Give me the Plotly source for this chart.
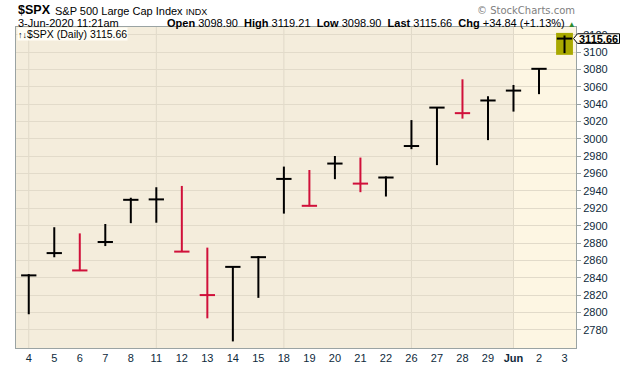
import plotly.graph_objects as go
from datetime import date

# ---- data ----
dates = ["2020-05-04", "2020-05-05", "2020-05-06", "2020-05-07", "2020-05-08",
         "2020-05-11", "2020-05-12", "2020-05-13", "2020-05-14", "2020-05-15",
         "2020-05-18", "2020-05-19", "2020-05-20", "2020-05-21", "2020-05-22",
         "2020-05-26", "2020-05-27", "2020-05-28", "2020-05-29",
         "2020-06-01", "2020-06-02", "2020-06-03"]
tick_labels = ["4", "5", "6", "7", "8", "11", "12", "13", "14", "15", "18", "19",
               "20", "21", "22", "26", "27", "28", "29", "<b>Jun</b>", "2", "3"]
high = [2844.2, 2898.2, 2891.1, 2901.9, 2932.2, 2944.3, 2945.8, 2874.7, 2852.8, 2865.0,
        2968.1, 2964.2, 2980.3, 2978.5, 2956.8, 3021.7, 3036.3, 3068.7, 3049.2,
        3062.2, 3081.1, 3119.21]
low = [2797.9, 2863.6, 2847.7, 2876.5, 2902.9, 2903.4, 2869.6, 2793.2, 2766.6, 2816.8,
       2913.9, 2922.4, 2953.6, 2938.6, 2933.6, 2988.2, 2969.8, 3023.4, 2998.6,
       3031.5, 3051.6, 3098.90]
close = [2842.7, 2868.4, 2848.4, 2881.2, 2929.8, 2930.3, 2870.1, 2820.0, 2852.5, 2863.7,
         2953.9, 2922.9, 2971.6, 2948.5, 2955.5, 2991.8, 3036.1, 3029.7, 3044.3,
         3055.7, 3080.8, 3115.66]
prev_close_before = 2830.7
y_ticks = list(range(2780, 3121, 20))

Y_MIN, Y_MAX = 2759, 3129
X_MIN, X_MAX = -0.5, 21.45
W, H = 620, 376
ML, MR, MT, MB = 16, 44, 27, 16

RED = "#D0103A"
BLACK = "#000000"
FONT = "Arial, Liberation Sans, sans-serif"

n = len(dates)
xs = list(range(n))
prevs = [prev_close_before] + close[:-1]
colors = [RED if c < p else BLACK for c, p in zip(close, prevs)]

fig = go.Figure()
half = 0.3
for col in (BLACK, RED):
    X, Y = [], []
    for i in xs:
        if colors[i] != col:
            continue
        X += [i, i, None, i - half, i + half, None]
        Y += [low[i], high[i], None, close[i], close[i], None]
    fig.add_trace(go.Scatter(x=X, y=Y, mode="lines",
                             line=dict(color=col, width=2), hoverinfo="skip",
                             showlegend=False, connectgaps=False))

shapes = []
# June background shading
jun_idx = next(i for i, d in enumerate(dates) if d.startswith("2020-06"))
shapes.append(dict(type="rect", xref="x", yref="paper", x0=jun_idx, x1=X_MAX,
                   y0=0, y1=1, fillcolor="#FDF6E3", line=dict(width=0), layer="below"))
# weekly vertical gridlines
dd = [date.fromisoformat(d) for d in dates]
for i, d in enumerate(dd):
    if i == 0 or d.isocalendar()[1] != dd[i - 1].isocalendar()[1]:
        shapes.append(dict(type="line", xref="x", yref="paper", x0=i, x1=i, y0=0, y1=1,
                           line=dict(color="#E0D9C8", width=1), layer="below"))
# highlight box on last bar
li = n - 1
shapes.append(dict(type="rect", xref="x", yref="y", x0=li - 0.33, x1=li + 0.33,
                   y0=low[li] - 2, y1=high[li] + 3, fillcolor="#A9A900",
                   line=dict(width=0), layer="between"))

# price label (pentagon) on right axis
pw = W - ML - MR
ph = H - MT - MB
def px2paper_x(px):
    return (px - ML) / pw
def py_paper(pxy):
    return (H - MB - pxy) / ph

py = (close[li] - Y_MIN) / (Y_MAX - Y_MIN)
hh = 5.0 / ph
tip, lft, rgt = px2paper_x(573.5), px2paper_x(577.5), px2paper_x(619.5)
path = (f"M {tip},{py} L {lft},{py + hh} L {rgt},{py + hh} "
        f"L {rgt},{py - hh} L {lft},{py - hh} Z")
shapes.append(dict(type="path", xref="paper", yref="paper", path=path,
                   fillcolor="#FFFDF2", line=dict(color="black", width=1), layer="above"))

ann = []
ann.append(dict(xref="paper", yref="paper", x=px2paper_x(598.5), y=py,
                text=f"<b>{close[li]:.2f}</b>", showarrow=False,
                font=dict(family=FONT, size=11, color="black"),
                xanchor="center", yanchor="middle", borderpad=0))
# header
ann.append(dict(xref="paper", yref="paper", x=px2paper_x(16), y=py_paper(9.5),
                text="<b>$SPX</b>", showarrow=False, xanchor="left", yanchor="middle",
                font=dict(family=FONT, size=12.5, color="black")))
ann.append(dict(xref="paper", yref="paper", x=px2paper_x(53), y=py_paper(10),
                text="S&P 500 Large Cap Index <span style='font-size:9px'>INDX</span>",
                showarrow=False, xanchor="left", yanchor="middle",
                font=dict(family=FONT, size=11, color="black")))
ann.append(dict(xref="paper", yref="paper", x=px2paper_x(16), y=py_paper(23),
                text="3-Jun-2020 11:21am", showarrow=False, xanchor="left", yanchor="middle",
                font=dict(family=FONT, size=11, color="black")))
ann.append(dict(xref="paper", yref="paper", x=px2paper_x(578), y=py_paper(23),
                text=("<b>Open</b> 3098.90  <b>High</b> 3119.21  <b>Low</b> 3098.90  "
                      "<b>Last</b> 3115.66  <b>Chg</b> +34.84 (+1.13%) "
                      "<span style='color:#2E8B2E;font-size:8px'>▲</span>"),
                showarrow=False, xanchor="right", yanchor="middle",
                font=dict(family=FONT, size=11, color="black")))
ann.append(dict(xref="paper", yref="paper", x=px2paper_x(577), y=py_paper(10),
                text="© StockCharts.com", showarrow=False, xanchor="right", yanchor="middle",
                font=dict(family="Trebuchet MS, DejaVu Sans, Arial", size=10, color="#808080")))
ann.append(dict(xref="paper", yref="paper", x=px2paper_x(17), y=py_paper(34),
                text=f"<span style='font-size:9px'>↑↓</span>$SPX (Daily) {close[li]:.2f}",
                showarrow=False, xanchor="left", yanchor="middle", bgcolor="#FFFEF6",
                borderpad=0,
                font=dict(family=FONT, size=10.5, color="black")))

fig.update_layout(
    width=W, height=H,
    margin=dict(l=ML, r=MR, t=MT, b=MB),
    paper_bgcolor="white", plot_bgcolor="#F4EDDC",
    shapes=shapes, annotations=ann, showlegend=False,
    xaxis=dict(range=[X_MIN, X_MAX], tickmode="array", tickvals=xs, ticktext=tick_labels,
               showgrid=False, zeroline=False, showline=True, linecolor="#9AA3A3",
               linewidth=1, mirror=True, ticks="", ticklen=0,
               tickfont=dict(family=FONT, size=11, color="#0E2A3C"),
               fixedrange=True),
    yaxis=dict(range=[Y_MIN, Y_MAX], side="right", tickmode="array", tickvals=y_ticks,
               ticktext=[str(v) for v in y_ticks],
               showgrid=True, gridcolor="#E2DBCA", gridwidth=1, zeroline=False,
               showline=True, linecolor="#9AA3A3", linewidth=1, mirror=True,
               ticks="outside", ticklen=4, tickcolor="#9AA3A3",
               tickfont=dict(family=FONT, size=11, color="#0E2A3C"),
               fixedrange=True),
)

fig.write_html("out.html", config={"displayModeBar": False},
               post_script="document.body.style.margin='0';"
                           "document.body.style.overflow='hidden';")
